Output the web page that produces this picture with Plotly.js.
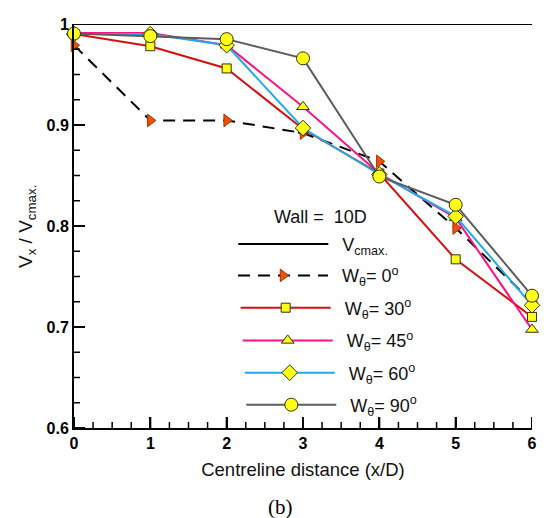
<!DOCTYPE html>
<html>
<head>
<meta charset="utf-8">
<script src="https://cdn.plot.ly/plotly-3.0.1.min.js"></script>
<style>html,body{margin:0;padding:0;background:#fff;}#chart{width:547px;height:518px;}</style>
</head>
<body>
<div id="chart"></div>
<script>
// ---- data ----
const xDist = [0, 1, 2, 3, 4, 5, 6];
const xRange = [0, 6], yRange = [0.6, 1.0];
const xTickStep = 1, xMinorStep = 0.25;
const yTickStep = 0.1, yMinorStep = 0.025;
const vcmax = [1, 1, 1, 1, 1, 1, 1];
const w0  = [0.979, 0.9045, 0.9045, 0.892, 0.864, 0.798, 0.725];
const w30 = [0.990, 0.978, 0.956, 0.896, 0.852, 0.767, 0.710];
const w45 = [0.991, 0.991, 0.979, 0.918, 0.852, 0.808, 0.6975];
const w60 = [0.990, 0.990, 0.979, 0.897, 0.851, 0.8095, 0.7215];
const w90 = [0.9905, 0.988, 0.985, 0.966, 0.849, 0.821, 0.731];
const seriesNames = ['V<sub>cmax.</sub>', 'W<sub>θ</sub>= 0<sup>o</sup>', 'W<sub>θ</sub>= 30<sup>o</sup>',
  'W<sub>θ</sub>= 45<sup>o</sup>', 'W<sub>θ</sub>= 60<sup>o</sup>', 'W<sub>θ</sub>= 90<sup>o</sup>'];
const legendHeader = 'Wall =\u00a0 10D';
const xTitle = 'Centreline distance (x/D)';
const yTitle = 'V<sub>x</sub> / V<sub>cmax.</sub>';
const panelLabel = '(b)';

const W = 547, H = 518;
const ML = 74, MR = 15, MT = 24, MB = 90;
const PW = W - ML - MR, PH = H - MT - MB;
const FONT = 'Arial, "Liberation Sans", sans-serif';
const YEL = '#ffff1a';
const EDGE = '#333300';
function px2x(px) { return (px - ML) / PW; }
function py2y(py) { return 1 - (py - MT) / PH; }

function mk(y, name, leg, color, dash, sym, size, mcolor, mline) {
  const t = {
    x: xDist, y: y, name: '\u2002' + name, legend: leg, type: 'scatter',
    mode: sym ? 'lines+markers' : 'lines',
    line: {color: color, width: 2, dash: dash || 'solid'},
    cliponaxis: false
  };
  if (sym) t.marker = {symbol: sym, size: size, color: mcolor, line: {color: mline, width: 1}};
  return t;
}

const traces = [
  mk(vcmax, seriesNames[0], 'legend', '#000000', 'solid', null),
  mk(w0, seriesNames[1], 'legend2', '#000000', '12px,8px', 'triangle-right', 11, '#f0500a', '#a83000'),
  mk(w30, seriesNames[2], 'legend3', '#d80f0f', 'solid', 'square', 9, YEL, EDGE),
  mk(w45, seriesNames[3], 'legend4', '#ff1088', 'solid', 'triangle-up', 11, YEL, EDGE),
  mk(w60, seriesNames[4], 'legend5', '#1eaaf0', 'solid', 'diamond', 12, YEL, EDGE),
  mk(w90, seriesNames[5], 'legend6', '#5c5c5c', 'solid', 'circle', 13, YEL, EDGE)
];

// legend rows: [left px of line start, centre y px]
const legRows = [[238.3, 244.3], [238, 275.7], [240.7, 308], [242.7, 340.7], [244.7, 373], [246.3, 405]];
function legendAt(i) {
  return {
    x: px2x(legRows[i][0] - 5), y: py2y(legRows[i][1]),
    xref: 'paper', yref: 'paper', xanchor: 'left', yanchor: 'middle',
    bgcolor: 'rgba(0,0,0,0)', borderwidth: 0, itemwidth: 90,
    font: {family: FONT, size: 18, color: '#111'}, tracegroupgap: 0
  };
}

// inside tick marks, drawn on the axes' own scales (pixel length from the axis)
const tickShapes = [];
const nx = Math.round((xRange[1] - xRange[0]) / xMinorStep);
for (let i = 0; i <= nx; i++) {
  const v = xRange[0] + i * xMinorStep;
  const major = Math.abs(v / xTickStep - Math.round(v / xTickStep)) < 1e-6;
  tickShapes.push({type: 'line', xref: 'x', yref: 'y', ysizemode: 'pixel', yanchor: yRange[0],
    x0: v, x1: v, y0: 0, y1: major ? 11 : 6, layer: 'above',
    line: {color: '#000', width: major ? 2 : 1.5}});
}
const ny = Math.round((yRange[1] - yRange[0]) / yMinorStep);
for (let i = 0; i <= ny; i++) {
  const v = yRange[0] + i * yMinorStep;
  const major = Math.abs((v - yRange[0]) / yTickStep - Math.round((v - yRange[0]) / yTickStep)) < 1e-6;
  tickShapes.push({type: 'line', xref: 'x', yref: 'y', xsizemode: 'pixel', xanchor: xRange[0],
    y0: v, y1: v, x0: 0, x1: major ? 11 : 6, layer: 'above',
    line: {color: '#000', width: major ? 2 : 1.5}});
}

const layout = {
  width: W, height: H,
  margin: {l: ML, r: MR, t: MT, b: MB},
  paper_bgcolor: '#fff', plot_bgcolor: '#fff',
  showlegend: true,
  legend: legendAt(0), legend2: legendAt(1), legend3: legendAt(2),
  legend4: legendAt(3), legend5: legendAt(4), legend6: legendAt(5),
  xaxis: {
    range: xRange, tick0: 0, dtick: xTickStep,
    ticks: 'inside', ticklen: 11, tickwidth: 2, tickcolor: '#000',
    showline: true, linewidth: 2, linecolor: '#000', showgrid: false, zeroline: false,
    tickfont: {family: FONT, size: 16, color: '#000', weight: 'bold'},
    title: {text: xTitle, font: {family: FONT, size: 18.5, color: '#111'}, standoff: 12}
  },
  yaxis: {
    range: yRange, tick0: 0.6, dtick: yTickStep,
    ticks: 'inside', ticklen: 11, tickwidth: 2, tickcolor: '#000',
    showline: true, linewidth: 2, linecolor: '#000', showgrid: false, zeroline: false,
    tickfont: {family: FONT, size: 16, color: '#000', weight: 'bold'}
  },
  shapes: tickShapes,
  annotations: [
    {text: yTitle, xref: 'paper', yref: 'paper', x: px2x(27), y: py2y(227), textangle: -90,
     xanchor: 'center', yanchor: 'middle', showarrow: false, font: {family: FONT, size: 19, color: '#111'}},
    {text: legendHeader, xref: 'paper', yref: 'paper', x: px2x(271.5), y: py2y(217),
     xanchor: 'left', yanchor: 'middle', showarrow: false, font: {family: FONT, size: 18, color: '#111'}},
    {text: panelLabel, xref: 'paper', yref: 'paper', x: px2x(280), y: py2y(507),
     xanchor: 'center', yanchor: 'middle', showarrow: false,
     font: {family: '"Times New Roman", "Liberation Serif", serif', size: 21, color: '#000'}}
  ]
};

Plotly.newPlot('chart', traces, layout, {displayModeBar: false});
</script>
</body>
</html>
